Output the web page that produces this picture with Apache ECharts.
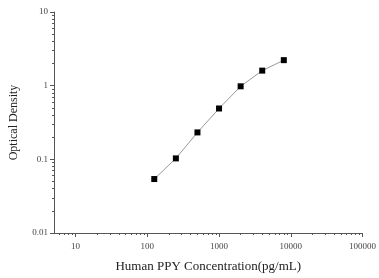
<!DOCTYPE html>
<html>
<head>
<meta charset="utf-8">
<script src="https://cdn.jsdelivr.net/npm/echarts@6/dist/echarts.min.js"></script>
<style>
  html, body { margin: 0; padding: 0; background: #fff; }
  #chart { width: 379px; height: 278px; }
</style>
</head>
<body>
<div id="chart"></div>
<script>
  // standard curve
  var concentration = [125, 250, 500, 1000, 2000, 4000, 8000];
  var density = [0.054, 0.103, 0.232, 0.49, 0.98, 1.6, 2.22];

  var xMajor = [10, 100, 1000, 10000, 100000];
  var yMajor = [0.01, 0.1, 1, 10];
  var xMinor = [6, 7, 8, 9, 20, 30, 40, 50, 60, 70, 80, 90, 200, 300, 400, 500, 600, 700, 800, 900,
    2000, 3000, 4000, 5000, 6000, 7000, 8000, 9000, 20000, 30000, 40000, 50000, 60000, 70000, 80000, 90000];
  var yMinor = [0.02, 0.03, 0.04, 0.05, 0.06, 0.07, 0.08, 0.09, 0.2, 0.3, 0.4, 0.5, 0.6, 0.7, 0.8, 0.9,
    2, 3, 4, 5, 6, 7, 8, 9];

  var serif = '"Liberation Serif", "DejaVu Serif", serif';
  var lineColor = '#555';

  var chart = echarts.init(document.getElementById('chart'));

  var pairs = concentration.map(function (c, i) { return [c, density[i]]; });

  chart.setOption({
    animation: false,
    grid: { left: 49, right: 15, top: 12, bottom: 35, containLabel: false },
    xAxis: [{
      type: 'log',
      logBase: 10,
      min: 5,
      max: 100000,
      name: 'Human PPY Concentration(pg/mL)',
      nameLocation: 'middle',
      nameGap: 27,
      nameTextStyle: { fontFamily: serif, fontSize: 13, color: '#222' },
      axisLine: { show: true, lineStyle: { color: lineColor, width: 1 } },
      axisTick: { show: true, length: 4, customValues: xMajor, lineStyle: { color: lineColor } },
      axisLabel: {
        customValues: xMajor,
        margin: 9,
        fontFamily: serif,
        fontSize: 9,
        color: '#444',
        formatter: function (v) { return String(Math.round(v)); }
      },
      splitLine: { show: false }
    }, {
      type: 'log',
      logBase: 10,
      min: 5,
      max: 100000,
      position: 'bottom',
      axisLine: { show: false },
      axisTick: { show: true, length: 2, customValues: xMinor, lineStyle: { color: lineColor } },
      axisLabel: { show: false },
      splitLine: { show: false }
    }],
    yAxis: [{
      type: 'log',
      logBase: 10,
      min: 0.01,
      max: 10,
      name: 'Optical Density',
      nameLocation: 'middle',
      nameGap: 34,
      nameTextStyle: { fontFamily: serif, fontSize: 12, color: '#222' },
      axisLine: { show: true, lineStyle: { color: lineColor, width: 1 } },
      axisTick: { show: true, length: 4, customValues: yMajor, lineStyle: { color: lineColor } },
      axisLabel: {
        customValues: yMajor,
        margin: 6,
        fontFamily: serif,
        fontSize: 9,
        color: '#444',
        formatter: function (v) { return String(v); }
      },
      splitLine: { show: false }
    }, {
      type: 'log',
      logBase: 10,
      min: 0.01,
      max: 10,
      position: 'left',
      axisLine: { show: false },
      axisTick: { show: true, length: 2, customValues: yMinor, lineStyle: { color: lineColor } },
      axisLabel: { show: false },
      splitLine: { show: false }
    }],
    series: [{
      type: 'line',
      xAxisIndex: 0,
      yAxisIndex: 0,
      data: pairs,
      symbol: 'rect',
      symbolSize: 6,
      itemStyle: { color: '#000' },
      lineStyle: { color: '#999', width: 1 }
    }]
  });
</script>
</body>
</html>
